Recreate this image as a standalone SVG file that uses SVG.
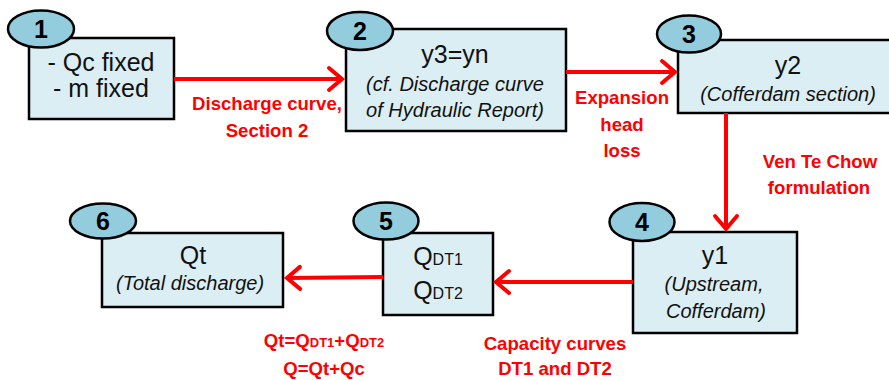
<svg xmlns="http://www.w3.org/2000/svg" width="889" height="380" viewBox="0 0 889 380">
<defs>
<style>
.box{fill:#DBEEF4;stroke:#000;stroke-width:2.5}
.num{fill:#93CDDD;stroke:#000;stroke-width:2.5}
.numt{font-family:"Liberation Sans",Arial,sans-serif;font-weight:bold;font-size:25px;fill:#000;text-anchor:middle}
.t{font-family:"Liberation Sans",Arial,sans-serif;font-size:25px;fill:#111;text-anchor:middle}
.it{font-family:"Liberation Sans",Arial,sans-serif;font-style:italic;font-size:20px;fill:#111;text-anchor:middle}
.sub{font-size:16px}
.lbl{font-family:"Liberation Sans",Arial,sans-serif;font-weight:bold;font-size:18.6px;fill:#FF0000;text-anchor:middle}
.lsub{font-size:13px}
.conn{stroke:#FF0000;stroke-width:4;fill:none}
</style>
<marker id="arr" markerUnits="userSpaceOnUse" markerWidth="30" markerHeight="30" viewBox="-16 -15 20 30" refX="0" refY="0" orient="auto">
<path d="M-13,-11 L0,0 L-13,11" fill="none" stroke="#FF0000" stroke-width="4" stroke-linecap="round" stroke-linejoin="miter"/>
</marker>
</defs>
<rect width="889" height="380" fill="#fff"/>

<g id="node1">
<rect class="box" x="29" y="38" width="145" height="81"/>
<ellipse class="num" cx="41" cy="29" rx="33" ry="18.5"/>
<text class="numt" x="41" y="38">1</text>
<text class="t" x="101" y="71">- Qc fixed</text>
<text class="t" x="101" y="97">- m fixed</text>
</g>

<g id="node2">
<rect class="box" x="346" y="29" width="220" height="102"/>
<ellipse class="num" cx="360" cy="31" rx="33" ry="19"/>
<text class="numt" x="360" y="40">2</text>
<text class="t" x="455" y="63">y3=yn</text>
<text class="it" x="455" y="91">(cf. Discharge curve</text>
<text class="it" x="455" y="117">of Hydraulic Report)</text>
</g>

<g id="node3">
<rect class="box" x="678" y="40" width="230" height="73"/>
<ellipse class="num" cx="689" cy="34" rx="32" ry="18.5"/>
<text class="numt" x="689" y="43">3</text>
<text class="t" x="788" y="74">y2</text>
<text class="it" x="788" y="101">(Cofferdam section)</text>
</g>

<g id="node4">
<rect class="box" x="633" y="232" width="164" height="101"/>
<ellipse class="num" cx="642" cy="222" rx="32.5" ry="19"/>
<text class="numt" x="642" y="231">4</text>
<text class="t" x="715" y="264">y1</text>
<text class="it" x="714" y="291">(Upstream,</text>
<text class="it" x="716" y="318">Cofferdam)</text>
</g>

<g id="node5">
<rect class="box" x="383" y="233" width="110" height="82"/>
<ellipse class="num" cx="386" cy="221" rx="32.5" ry="18.5"/>
<text class="numt" x="386" y="230">5</text>
<text class="t" x="438" y="265">Q<tspan class="sub">DT1</tspan></text>
<text class="t" x="438" y="299">Q<tspan class="sub">DT2</tspan></text>
</g>

<g id="node6">
<rect class="box" x="102" y="233" width="181" height="74"/>
<ellipse class="num" cx="103" cy="221" rx="33" ry="17.5"/>
<text class="numt" x="103" y="230">6</text>
<text class="t" x="193" y="264">Qt</text>
<text class="it" x="190" y="290">(Total discharge)</text>
</g>

<g id="connectors">
<line class="conn" x1="174" y1="79" x2="342" y2="79" marker-end="url(#arr)"/>
<line class="conn" x1="566" y1="72" x2="675" y2="72" marker-end="url(#arr)"/>
<line class="conn" x1="726" y1="113" x2="726" y2="229" marker-end="url(#arr)"/>
<line class="conn" x1="633" y1="282" x2="496" y2="282" marker-end="url(#arr)"/>
<line class="conn" x1="383" y1="277" x2="287" y2="278" marker-end="url(#arr)"/>
</g>

<g id="labels">
<text class="lbl" x="267" y="110">Discharge curve,</text>
<text class="lbl" x="267" y="137">Section 2</text>
<text class="lbl" x="622" y="104">Expansion</text>
<text class="lbl" x="622" y="131">head</text>
<text class="lbl" x="622" y="157">loss</text>
<text class="lbl" x="820" y="168">Ven Te Chow</text>
<text class="lbl" x="819" y="194">formulation</text>
<text class="lbl" x="555" y="350">Capacity curves</text>
<text class="lbl" x="555" y="375">DT1 and DT2</text>
<text class="lbl" x="324" y="347">Qt=Q<tspan class="lsub">DT1</tspan>+Q<tspan class="lsub">DT2</tspan></text>
<text class="lbl" x="324" y="375">Q=Qt+Qc</text>
</g>
</svg>
